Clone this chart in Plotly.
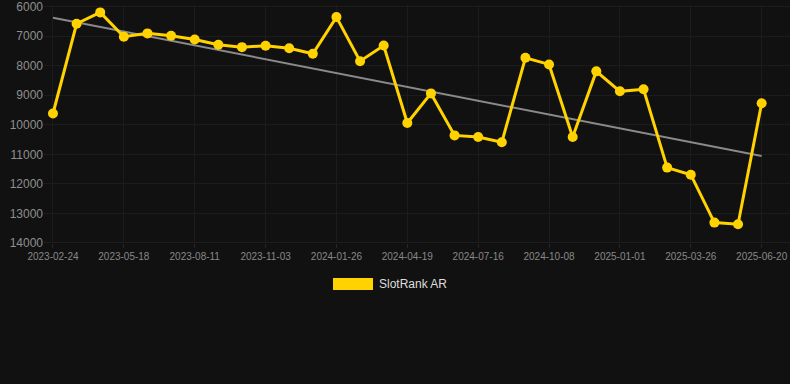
import numpy as np
import plotly.graph_objects as go

dates = ["2023-02-24", "2023-03-24", "2023-04-21", "2023-05-18", "2023-06-15", "2023-07-14",
         "2023-08-11", "2023-09-08", "2023-10-06", "2023-11-03", "2023-12-01", "2023-12-29",
         "2024-01-26", "2024-02-23", "2024-03-22", "2024-04-19", "2024-05-17", "2024-06-14",
         "2024-07-16", "2024-08-13", "2024-09-10", "2024-10-08", "2024-11-05", "2024-12-03",
         "2025-01-01", "2025-01-29", "2025-02-26", "2025-03-26", "2025-04-23", "2025-05-21",
         "2025-06-20"]
rank = [9620, 6585, 6200, 7025, 6910, 6990, 7115, 7295, 7375, 7330, 7410, 7600,
        6360, 7850, 7320, 9940, 8940, 10360, 10415, 10595, 7735, 7960, 10415, 8195,
        8870, 8800, 11450, 11690, 13310, 13365, 9275]
tick_dates = dates[::3]
y_ticks = [6000, 7000, 8000, 9000, 10000, 11000, 12000, 13000, 14000]
y_labels = [str(v) for v in y_ticks]
series_name = "SlotRank AR"

idx = np.arange(len(rank))
coef = np.polyfit(idx, rank, 1)
trend = np.polyval(coef, idx)

fig = go.Figure()
fig.add_trace(go.Scatter(x=dates, y=trend, mode="lines",
                         line=dict(color="#8a8a8a", width=2), showlegend=False, hoverinfo="skip"))
fig.add_trace(go.Scatter(x=dates, y=rank, mode="lines+markers", name=series_name,
                         line=dict(color="#FFD200", width=3),
                         marker=dict(color="#FFD200", size=10), showlegend=False,
                         cliponaxis=False))

fig.add_shape(type="rect", xref="paper", yref="paper",
              x0=(333 - 44) / 746, x1=(373 - 44) / 746,
              y0=(243 - 290) / 238, y1=(243 - 278) / 238,
              fillcolor="#FFD200", line=dict(width=0))
fig.add_annotation(xref="paper", yref="paper", x=(377 - 44) / 746, y=(243 - 284) / 238,
                   text=series_name, showarrow=False, xanchor="left", yanchor="middle",
                   font=dict(size=12, color="#dddddd"))

fig.update_layout(
    width=790, height=384,
    margin=dict(l=44, r=0, t=5, b=141),
    paper_bgcolor="#111111", plot_bgcolor="#111111",
    font=dict(family="Liberation Sans, Arial, sans-serif"),
    showlegend=False,
    xaxis=dict(type="category", categoryorder="array", categoryarray=dates,
               range=[-0.38, 31.2], tickmode="array", tickvals=tick_dates,
               ticktext=tick_dates, tickfont=dict(size=10, color="#888888"),
               showgrid=True, gridcolor="#1c1c1c", gridwidth=1, zeroline=False,
               ticks="outside", ticklen=4, tickcolor="#262626", showline=False),
    yaxis=dict(range=[14000, 5950], tickmode="array", tickvals=y_ticks, ticktext=y_labels,
               tickfont=dict(size=12, color="#8f8f8f"), ticklabeloverflow="allow",
               showgrid=True, gridcolor="#1c1c1c", gridwidth=1, zeroline=False,
               ticks="", showline=False),
)
fig.add_shape(type="line", xref="paper", yref="y", x0=0, x1=1, y0=14000, y1=14000,
              line=dict(color="#2a2a2a", width=1), layer="below")

fig.write_html("out.html")
